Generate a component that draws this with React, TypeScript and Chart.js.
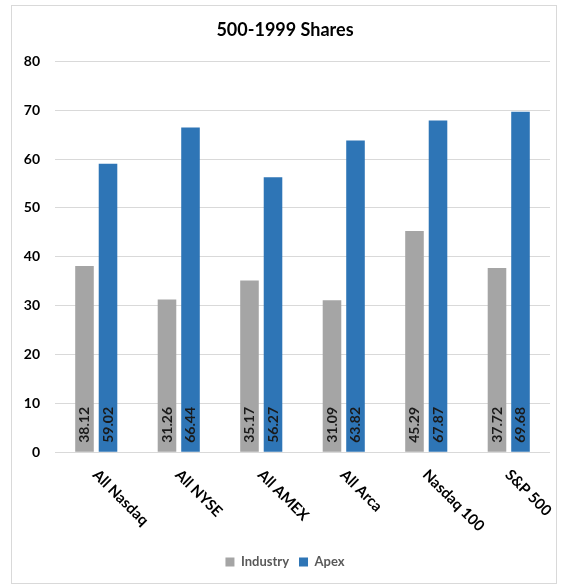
import React, { useEffect, useRef } from "react";
import { Chart, registerables } from "chart.js";

Chart.register(...registerables);

const categories = ["All Nasdaq", "All NYSE", "All AMEX", "All Arca", "Nasdaq 100", "S&P 500"];
const industryValues = [38.12, 31.26, 35.17, 31.09, 45.29, 37.72];
const apexValues = [59.02, 66.44, 56.27, 63.82, 67.87, 69.68];
const seriesNames = ["Industry", "Apex"];
const titleText = "500-1999 Shares";
const yMin = 0;
const yMax = 80;
const yStep = 10;

const FONT = "Lato, 'Open Sans', sans-serif";

const borderPlugin = {
  id: "outerBorder",
  beforeDraw(chart: any) {
    const ctx = chart.ctx;
    ctx.save();
    ctx.fillStyle = "#ffffff";
    ctx.fillRect(0, 0, chart.width, chart.height);
    ctx.strokeStyle = "#D9D9D9";
    ctx.lineWidth = 1;
    ctx.strokeRect(11.5, 5.5, 545, 578);
    ctx.restore();
  },
};

const valueLabelPlugin = {
  id: "valueLabels",
  afterDatasetsDraw(chart: any) {
    const ctx = chart.ctx;
    ctx.save();
    ctx.font = `bold 14px ${FONT}`;
    ctx.fillStyle = "#1a1a1a";
    ctx.textAlign = "left";
    ctx.textBaseline = "middle";
    chart.data.datasets.forEach((ds: any, di: number) => {
      const meta = chart.getDatasetMeta(di);
      meta.data.forEach((el: any, i: number) => {
        const v = ds.data[i];
        ctx.save();
        ctx.translate(el.x, el.base - 9);
        ctx.rotate(-Math.PI / 2);
        ctx.fillText(Number(v).toFixed(2), 0, 0);
        ctx.restore();
      });
    });
    ctx.restore();
  },
};

const xLabelPlugin = {
  id: "xLabels",
  afterDraw(chart: any) {
    const ctx = chart.ctx;
    const xs = chart.scales.x;
    ctx.save();
    ctx.font = `bold 15px ${FONT}`;
    ctx.fillStyle = "#000000";
    ctx.textAlign = "left";
    ctx.textBaseline = "middle";
    chart.data.labels.forEach((lab: string, i: number) => {
      const x = xs.getPixelForValue(i);
      ctx.save();
      ctx.translate(x - 1, xs.top + 20);
      ctx.rotate(Math.PI / 4);
      ctx.fillText(lab, 0, 0);
      ctx.restore();
    });
    ctx.restore();
  },
};

export default function App() {
  const ref = useRef<HTMLCanvasElement>(null);
  useEffect(() => {
    if (!ref.current) return;
    const chart = new Chart(ref.current, {
      type: "bar",
      data: {
        labels: categories,
        datasets: [
          {
            label: seriesNames[0],
            data: industryValues,
            backgroundColor: "#A5A5A5",
            categoryPercentage: 0.57,
            barPercentage: 0.79,
          },
          {
            label: seriesNames[1],
            data: apexValues,
            backgroundColor: "#2E75B6",
            categoryPercentage: 0.57,
            barPercentage: 0.79,
          },
        ],
      },
      options: {
        responsive: false,
        animation: false,
        layout: { padding: { left: 20, right: 15, top: 0, bottom: 9.5 } },
        plugins: {
          title: {
            display: true,
            text: titleText,
            color: "#000000",
            font: { family: FONT, size: 18, weight: "bold" },
            padding: { top: 19.2, bottom: 20.5 },
          },
          legend: {
            position: "bottom",
            labels: {
              boxWidth: 9,
              boxHeight: 9,
              padding: 10,
              color: "#595959",
              font: { family: FONT, size: 13, weight: "bold" },
            },
          },
          tooltip: { enabled: false },
        },
        scales: {
          x: {
            grid: { display: false },
            border: { display: false },
            ticks: { display: false },
            afterFit: (s: any) => {
              s.height = 93.2;
            },
          },
          y: {
            min: yMin,
            max: yMax,
            grid: { color: "#D9D9D9", drawTicks: false, lineWidth: 1 },
            border: { display: false },
            ticks: {
              stepSize: yStep,
              padding: 15,
              color: "#000000",
              font: { family: FONT, size: 14, weight: "bold" },
            },
            afterFit: (s: any) => {
              s.width = 35;
            },
          },
        },
      },
      plugins: [borderPlugin, valueLabelPlugin, xLabelPlugin],
    });
    return () => chart.destroy();
  }, []);
  return (
    <div style={{ position: "absolute", left: 0, top: 0, width: 565, height: 588 }}>
      <canvas ref={ref} width={565} height={588} />
    </div>
  );
}
